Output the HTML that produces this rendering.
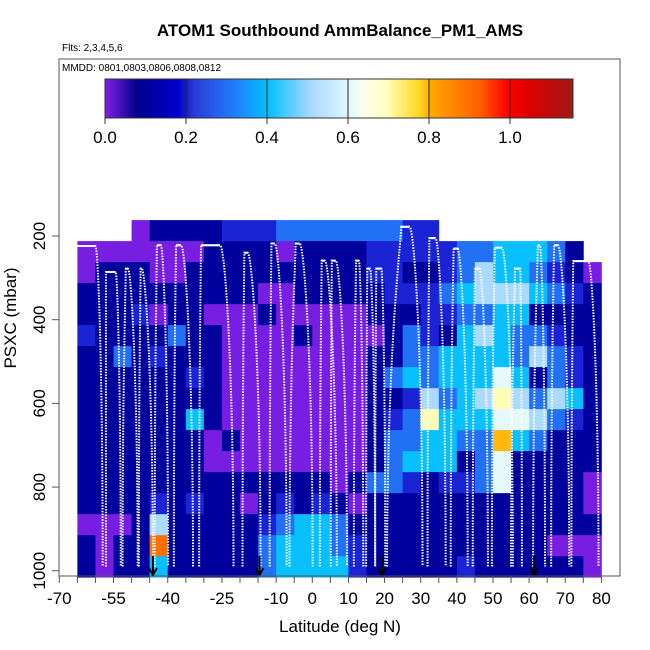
<!DOCTYPE html>
<html><head><meta charset="utf-8"><style>
html,body{margin:0;padding:0;background:#fff;}
svg{display:block;font-family:"Liberation Sans",sans-serif;}
</style></head><body>
<svg id="chart" width="650" height="650" viewBox="0 0 650 650" xmlns="http://www.w3.org/2000/svg">
<defs>
<linearGradient id="cbar" x1="0" x2="1" y1="0" y2="0">
<stop offset="0" stop-color="#8020e8"/><stop offset="0.07" stop-color="#00008b"/><stop offset="0.155" stop-color="#0000cd"/><stop offset="0.19" stop-color="#2a3ad8"/><stop offset="0.29" stop-color="#1e88ff"/><stop offset="0.346" stop-color="#00bfff"/><stop offset="0.44" stop-color="#a8d8ff"/><stop offset="0.51" stop-color="#d8f4ff"/><stop offset="0.55" stop-color="#f8fff0"/><stop offset="0.6" stop-color="#ffffc0"/><stop offset="0.67" stop-color="#ffd820"/><stop offset="0.7" stop-color="#ffa500"/><stop offset="0.8" stop-color="#ff6000"/><stop offset="0.86" stop-color="#ff0000"/><stop offset="0.9" stop-color="#dd0000"/><stop offset="1" stop-color="#a01818"/>
</linearGradient>
</defs>
<text x="340" y="36" text-anchor="middle" font-size="17" font-weight="bold">ATOM1 Southbound AmmBalance_PM1_AMS</text>
<text x="62" y="51" font-size="10">Flts: 2,3,4,5,6</text>
<g id="heat"></g>
<g id="traces"></g>
<g id="arrows"></g>
<rect x="59" y="59" width="561" height="517" fill="none" stroke="#555" stroke-width="1"/>
<text x="62" y="71" font-size="10">MMDD: 0801,0803,0806,0808,0812</text>
<g>
<rect x="105" y="79" width="468" height="39" fill="url(#cbar)" stroke="#333" stroke-width="1"/>
<g id="cbticks"></g>
</g>
<g id="axes"></g>
<text x="340" y="632" text-anchor="middle" font-size="17">Latitude (deg N)</text>
<text transform="translate(16,318) rotate(-90)" text-anchor="middle" font-size="17">PSXC (mbar)</text>
</svg>
<script>
// ---- data ----
const colLat0 = -70, colWidth = 5;
const rowP0 = 162, rowDP = 50.2;
const heatRows = [
"....01111222333333322.........",
".0000000111101111222223344431.",
".01110011111111112211235443210",
".11111111110011111222345554321",
".11120110001000001112233441111",
".21111311000010000132145433211",
".11312111000000001133444435321",
".11111121000000001343444641321",
".11111111000000001125345753541",
".11111141000000001237444665321",
".11111110100000001334433843111",
".11111110000000001344413611111",
".11111111111111013321223611110",
".11112121101212101111111111110",
".00015111112344311111111111111",
".10119111113444321111111111000",
".10114111113444421111121111110"
];
const archStart = [-66.1,-57.1,-52.5,-48.0,-43.6,-38.3,-31.3,-19.3,-11.8,-6.3,2.1,5.1,11.5,14.9,17.4,20.7,31.9,38.3,44.4,49.7,55.0,61.1,66.1,71.7];
const archTopStart = [-66.1,-57.1,-51.6,-47.5,-43.0,-37.7,-30.8,-18.8,-11.3,-4.6,2.6,5.4,12.1,15.2,17.7,24.6,32.4,39.1,45.0,50.5,56.1,62.4,66.9,72.2];
const archTopEnd = [-60.0,-54.4,-51.0,-47.2,-41.9,-36.3,-25.5,-17.9,-10.4,-3.5,3.5,6.5,12.9,16.0,19.1,26.9,34.1,40.2,46.3,52.5,57.5,63.0,68.0,76.4];
const archEnd = [-58.0,-53.0,-48.3,-44.1,-39.9,-33.0,-21.8,-14.3,-7.1,0.1,6.8,9.6,14.1,17.4,20.2,30.5,36.9,43.0,48.6,55.5,58.0,64.4,71.1,79.2];
const archTopP = [224,286,278,278,222,222,222,240,218,218,259,259,259,278,278,178,205,230,278,228,278,222,222,260];
const arrowLats = [-44.1,-14.6,19.3,61.4];
const xTickLabels = ["-70","-55","-40","-25","-10","0","10","20","30","40","50","60","70","80"];
const yTickLabels = ["200","400","600","800","1000"];
const cbTickLabels = ["0.0","0.2","0.4","0.6","0.8","1.0"];

// ---- scales ----
const xs = lat => 59.3 + (lat + 70) * 3.614;
const ys = p => 236 + (p - 200) * 0.4184;
const cbx = v => 105 + v * 405;
const NS = "http://www.w3.org/2000/svg";
function mk(tag, parent, attrs){const e=document.createElementNS(NS,tag);for(const k in attrs)e.setAttribute(k,attrs[k]);parent.appendChild(e);return e;}

const stops=[[0,[128,32,232]],[0.08,[0,0,139]],[0.18,[0,0,205]],[0.22,[42,58,216]],[0.34,[30,136,255]],[0.4,[0,191,255]],[0.5,[168,216,255]],[0.58,[216,244,255]],[0.64,[248,255,240]],[0.7,[255,255,192]],[0.78,[255,216,32]],[0.82,[255,165,0]],[0.93,[255,96,0]],[1.0,[255,0,0]],[1.05,[221,0,0]],[1.16,[160,24,24]]];
function cmap(v){
  if(v<=stops[0][0])return 'rgb('+stops[0][1]+')';
  for(let i=1;i<stops.length;i++){if(v<=stops[i][0]){const a=stops[i-1],b=stops[i],t=(v-a[0])/(b[0]-a[0]);return 'rgb('+a[1].map((c,j)=>Math.round(c+(b[1][j]-c)*t)).join(',')+')';}}
  return 'rgb('+stops[stops.length-1][1]+')';
}

// heatmap
const heat=document.getElementById('heat');
heatRows.forEach((row,r)=>{
  for(let c=0;c<row.length;c++){
    const ch=row[c]; if(ch==='.'||ch===' ')continue;
    const v = ch==='A'?1.0:(+ch)/10+0.005;
    const x0=xs(colLat0+c*colWidth), x1=xs(colLat0+(c+1)*colWidth);
    const y0=ys(rowP0+r*rowDP), y1=ys(rowP0+(r+1)*rowDP);
    const e=mk('rect',heat,{x:x0.toFixed(2),y:y0.toFixed(2),width:(x1-x0+0.4).toFixed(2),height:(y1-y0+0.4).toFixed(2),fill:cmap(v)});
    
    
  }
});

// traces
const tr=document.getElementById('traces');
const yb=ys(990);
for(let i=0;i<archStart.length;i++){
  const xa=xs(archStart[i]),xb=xs(archTopStart[i]),xc=xs(archTopEnd[i]),xd=xs(archEnd[i]),yt=ys(archTopP[i]);
  const d=`M${xa},${yb} C${xa},${yt+120} ${xb},${yt+15} ${xb},${yt} L${xc},${yt} C${xc+(xd-xc)*0.35},${yt} ${xd},${yt+120} ${xd},${yb}`;
  const e=mk('path',tr,{d:d,fill:'none',stroke:'#fff','stroke-width':2,'stroke-dasharray':'1.5 1.3'});
  
  
  const t=mk('path',tr,{d:`M${xb},${yt} L${xc},${yt}`,fill:'none',stroke:'#fff','stroke-width':2});
  
  
}

// arrows
const ar=document.getElementById('arrows');
arrowLats.forEach(l=>{
  const x=xs(l);
  const g=mk('path',ar,{d:`M${x},556 L${x},575 M${x-4},568 L${x},575 L${x+4},568`,fill:'none',stroke:'#000','stroke-width':2});
  
  
});

// axes
const ax=document.getElementById('axes');
for(let l=-70;l<=80;l+=5){
  const t=mk('line',ax,{x1:xs(l),x2:xs(l),y1:576,y2:583,stroke:'#555'});
  
  
}
xTickLabels.forEach(s=>{
  const t=mk('text',ax,{x:xs(+s),y:604,'text-anchor':'middle','font-size':17});
  t.textContent=s;
  
  
});
yTickLabels.forEach(s=>{
  const y=ys(+s);
  const t=mk('line',ax,{x1:52,x2:59,y1:y,y2:y,stroke:'#555'});
  
  
  const l=mk('text',ax,{transform:`translate(45,${y}) rotate(-90)`,'text-anchor':'middle','font-size':17});
  l.textContent=s;
  
  
});
const cbt=document.getElementById('cbticks');
cbTickLabels.forEach(s=>{
  const x=cbx(+s);
  if(+s>0){const ln=mk('line',cbt,{x1:x,x2:x,y1:79,y2:118,stroke:'#222','stroke-width':1});
    
    }
  const tk=mk('line',cbt,{x1:x,x2:x,y1:118,y2:124,stroke:'#333'});
  
  
  const t=mk('text',cbt,{x:x,y:143,'text-anchor':'middle','font-size':17});
  t.textContent=s;
  
  
});
</script>
</body></html>
